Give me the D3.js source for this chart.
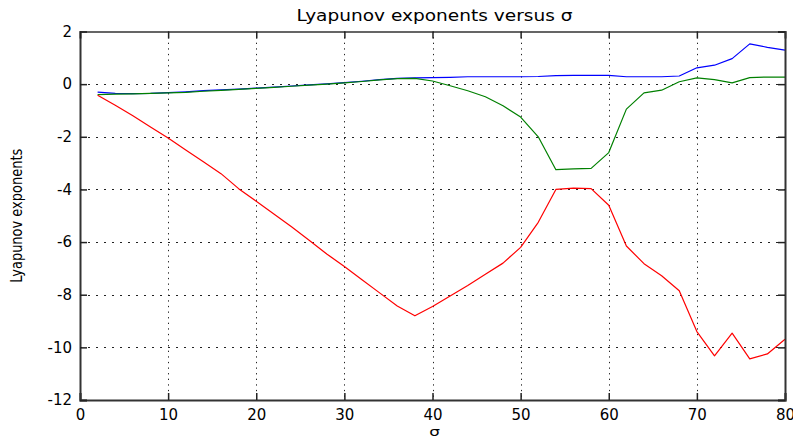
<!DOCTYPE html>
<html>
<head>
<meta charset="utf-8">
<script src="https://cdn.jsdelivr.net/npm/d3@7"></script>
<style>
  html, body { margin: 0; padding: 0; background: #fff; }
  svg { display: block; }
  text { font-family: "DejaVu Sans", "Liberation Sans", Arial, sans-serif; fill: #000; }
</style>
</head>
<body>
<svg id="chart" width="793" height="439"></svg>
<script>
// Parameter values sigma at which the exponents were computed
const sigma = [2, 4, 6, 8, 10, 12, 14, 16, 18, 20,
               22, 24, 26, 28, 30, 32, 34, 36, 38, 40,
               42, 44, 46, 48, 50, 52, 54, 56, 58, 60,
               62, 64, 66, 68, 70, 72, 74, 76, 78, 80];

// Largest exponent (blue)
const lambda1 = [-0.30, -0.35, -0.36, -0.35, -0.32, -0.29, -0.25, -0.22, -0.19, -0.15,
                 -0.11, -0.07, -0.03, 0.01, 0.06, 0.11, 0.17, 0.22, 0.24, 0.25,
                 0.26, 0.28, 0.28, 0.28, 0.28, 0.29, 0.32, 0.33, 0.33, 0.33,
                 0.28, 0.28, 0.28, 0.31, 0.62, 0.72, 0.97, 1.53, 1.40, 1.29];

// Second exponent (green)
const lambda2 = [-0.40, -0.38, -0.37, -0.35, -0.33, -0.31, -0.27, -0.24, -0.20, -0.16,
                 -0.12, -0.08, -0.04, 0.00, 0.05, 0.10, 0.16, 0.21, 0.22, 0.12,
                 -0.06, -0.25, -0.48, -0.82, -1.25, -2.00, -3.25, -3.22, -3.20, -2.60,
                 -0.95, -0.33, -0.23, 0.09, 0.24, 0.17, 0.05, 0.25, 0.27, 0.27];

// Smallest exponent (red)
const lambda3 = [-0.42, -0.80, -1.20, -1.63, -2.05, -2.50, -2.95, -3.40, -3.97, -4.45,
                 -4.93, -5.42, -5.93, -6.45, -6.93, -7.43, -7.93, -8.43, -8.80, -8.45,
                 -8.05, -7.65, -7.22, -6.80, -6.20, -5.25, -4.00, -3.95, -3.97, -4.60,
                 -6.15, -6.82, -7.28, -7.85, -9.40, -10.32, -9.46, -10.44, -10.25, -9.69];

const xTicks = [0, 10, 20, 30, 40, 50, 60, 70, 80];
const yTicks = [2, 0, -2, -4, -6, -8, -10, -12];

const svg = d3.select("#chart");
const plot = { left: 80, right: 785, top: 31.5, bottom: 400 };

const x = d3.scaleLinear().domain([0, 80]).range([plot.left, plot.right]);
const y = d3.scaleLinear().domain([-12, 2]).range([plot.bottom, plot.top]);

// Dotted grid
const grid = svg.append("g").attr("stroke", "#222").attr("stroke-width", 1).attr("fill", "none");
grid.selectAll("line.gx")
  .data(xTicks.slice(1, -1))
  .join("line")
  .attr("class", "gx")
  .attr("x1", d => Math.round(x(d)) + 0.5).attr("x2", d => Math.round(x(d)) + 0.5)
  .attr("y1", plot.top).attr("y2", plot.bottom)
  .attr("stroke-dasharray", "1.3,4.3");
grid.selectAll("line.gy")
  .data(yTicks.slice(1, -1))
  .join("line")
  .attr("class", "gy")
  .attr("y1", d => Math.round(y(d)) + 0.5).attr("y2", d => Math.round(y(d)) + 0.5)
  .attr("x1", plot.left).attr("x2", plot.right)
  .attr("stroke-dasharray", "2,6");

// Series lines
const series = [
  { values: lambda1, color: "#0000ff" },
  { values: lambda2, color: "#008000" },
  { values: lambda3, color: "#ff0000" }
];
const line = d3.line().x(d => x(d[0])).y(d => y(d[1]));
svg.append("g").selectAll("path")
  .data(series)
  .join("path")
  .attr("fill", "none")
  .attr("stroke", d => d.color)
  .attr("stroke-width", 1.2)
  .attr("stroke-linejoin", "round")
  .attr("d", d => line(sigma.map((s, i) => [s, d.values[i]])));

// Axes with inward ticks on all four sides
const tickLen = 7;
const fmt = d => String(d);
const axisBottom = d3.axisBottom(x).tickValues(xTicks).tickSize(-tickLen).tickPadding(tickLen + 2).tickFormat(fmt);
const axisLeft = d3.axisLeft(y).tickValues(yTicks).tickSize(-tickLen).tickPadding(tickLen + 1).tickFormat(fmt);
const axisTop = d3.axisTop(x).tickValues(xTicks).tickSize(-tickLen).tickFormat("");
const axisRight = d3.axisRight(y).tickValues(yTicks).tickSize(-tickLen).tickFormat("");

function style(g) {
  g.select(".domain").attr("stroke", "#333").attr("stroke-width", 2);
  g.selectAll(".tick line").attr("stroke", "#222").attr("stroke-width", 1.5);
  g.selectAll(".tick text").attr("fill", "#000").style("font-size", "15px")
    .style("font-family", "'DejaVu Sans', sans-serif");
}

svg.append("g").attr("transform", `translate(0,${plot.bottom})`).call(axisBottom).call(style);
svg.append("g").attr("transform", `translate(${plot.left},0)`).call(axisLeft).call(style);
svg.append("g").attr("transform", `translate(0,${plot.top})`).call(axisTop).call(style)
  .call(g => g.select(".domain").attr("stroke-width", 1.5));
svg.append("g").attr("transform", `translate(${plot.right},0)`).call(axisRight).call(style);

// Title
svg.append("text")
  .attr("x", (plot.left + plot.right) / 2 + 2).attr("y", 21)
  .attr("text-anchor", "middle")
  .attr("textLength", 276).attr("lengthAdjust", "spacingAndGlyphs")
  .style("font-size", "15px")
  .text("Lyapunov exponents versus σ");

// Axis labels
svg.append("text")
  .attr("transform", `translate(22,${(plot.top + plot.bottom) / 2}) scale(1.25,1) rotate(-90)`)
  .attr("text-anchor", "middle")
  .style("font-size", "13px")
  .text("Lyapunov exponents");

svg.append("text")
  .attr("transform", `translate(${x(40) + 2},436) scale(1.3,1)`)
  .attr("text-anchor", "middle")
  .style("font-size", "13px")
  .text("σ");
</script>
</body>
</html>
